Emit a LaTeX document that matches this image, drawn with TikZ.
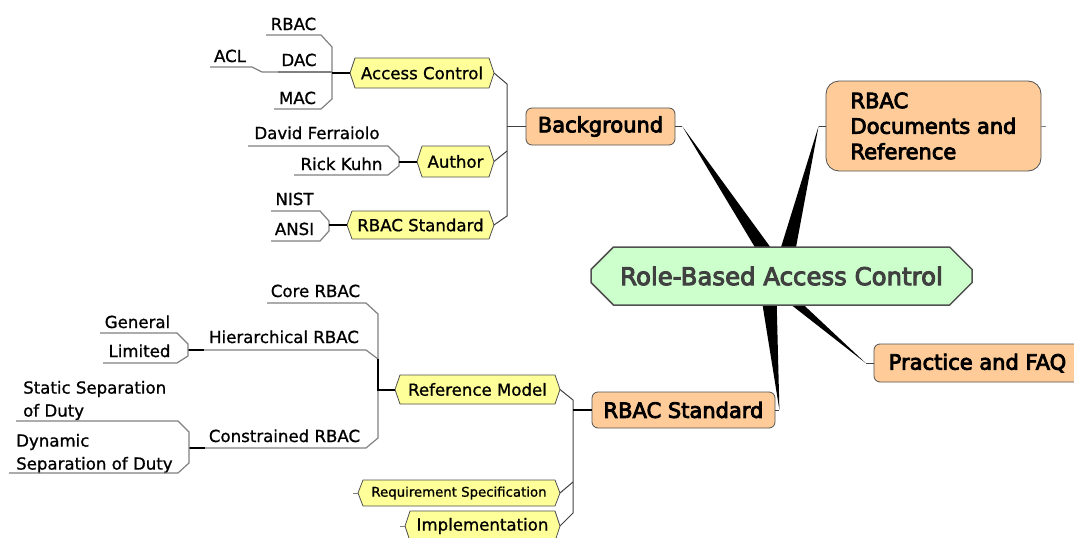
\documentclass[tikz,border=0pt]{standalone}
\usepackage{fontspec}
\setmainfont[FakeBold=1]{DejaVu Sans}
\newfontfamily\bfam[FakeBold=4]{DejaVu Sans}
\usetikzlibrary{shapes.misc,calc}
\definecolor{yel}{HTML}{FFFF99}
\definecolor{orng}{HTML}{FFCC99}
\definecolor{grn}{HTML}{CCFFCC}
\definecolor{bord}{HTML}{505050}
\definecolor{uline}{HTML}{808080}
\definecolor{ctext}{HTML}{404040}
\pgfdeclarelayer{bg}
\pgfsetlayers{bg,main}
\newcommand\mmwedge[3]{\fill[black] (#2) -- ($(#1)!#3!90:(#2)$) -- ($(#1)!#3!-90:(#2)$) -- cycle;}
\newcommand\hexa[1]{\filldraw[fill=yel, draw=bord, line width=0.8pt, line join=round] (#1.west) -- ([xshift=5pt]#1.north west) -- ([xshift=-5pt]#1.north east) -- (#1.east) -- ([xshift=-5pt]#1.south east) -- ([xshift=5pt]#1.south west) -- cycle;}
\begin{document}
\begin{tikzpicture}[x=1pt,y=-1pt,
  leaf/.style={anchor=base, inner sep=0pt, font=\fontsize{16.6}{23}\selectfont},
  mleaf/.style={anchor=west, inner sep=0pt, align=left, font=\fontsize{16.6}{23}\selectfont},
  yelnode/.style={rectangle, minimum height=30pt, inner sep=0pt, outer sep=0pt, font=\fontsize{16.6}{20}\selectfont},
  orngnode/.style={rectangle, rounded corners=6pt, fill=orng, draw=bord, line width=0.8pt, inner sep=0pt,
    font=\bfam\fontsize{21}{25.5}\selectfont},
  centnode/.style={chamfered rectangle, chamfered rectangle xsep=13pt, chamfered rectangle ysep=13pt,
    fill=grn, draw=bord, line width=1.5pt, minimum width=381pt, minimum height=58pt, inner sep=0pt,
    text=ctext, font=\bfam\fontsize{24.4}{28}\selectfont},
  uln/.style={draw=uline, line width=1.2pt},
  link/.style={draw=black, line width=2pt},
  dk/.style={draw=black!75, line width=1pt}
]
\useasboundingbox (0,0) rectangle (1074,538);

% central and main branches
\node[centnode] (c) at (781.5,276) {Role-Based Access Control};
\node[orngnode, minimum width=149pt, minimum height=37pt] (bg) at (600.5,126.5) {Background};
\node[orngnode, rounded corners=13pt, minimum width=215pt, minimum height=90pt, align=left] (doc) at (933.5,126) {RBAC\\Documents and\\Reference};
\node[orngnode, minimum width=207pt, minimum height=38pt] (faq) at (977.5,363) {Practice and FAQ};
\node[orngnode, minimum width=183pt, minimum height=36pt] (std) at (683.5,410) {RBAC Standard};

% yellow sub-topics
\node[yelnode, minimum width=144pt] (ac) at (422,73) {Access Control};
\node[yelnode, minimum width=77pt, minimum height=31pt] (au) at (455.5,161.5) {Author};
\node[yelnode, minimum width=147pt, minimum height=28pt] (rs) at (420.5,225) {RBAC Standard};
\node[yelnode, minimum width=165pt, minimum height=29pt] (rm) at (477.5,389.5) {Reference Model};
\node[yelnode, minimum width=202pt, minimum height=26pt, font=\fontsize{13.3}{16}\selectfont] (req) at (459,493) {Requirement Specification};
\node[yelnode, minimum width=155pt] (imp) at (482.5,526) {Implementation};

% leaves
\node[leaf] (lrbac) at (293.5,30) {RBAC};
\node[leaf] (ldac) at (299,66) {DAC};
\node[leaf] (lmac) at (297.5,104) {MAC};
\node[leaf] (lacl) at (230,62) {ACL};
\node[leaf] (ldf) at (317,139) {David Ferraiolo};
\node[leaf] (lrk) at (341.5,170) {Rick Kuhn};
\node[leaf] (lnist) at (294.5,205) {NIST};
\node[leaf] (lansi) at (294.5,235) {ANSI};
\node[leaf] (lcore) at (315.5,297) {Core RBAC};
\node[leaf] (lhier) at (284,343) {Hierarchical RBAC};
\node[leaf] (lcons) at (284.5,442) {Constrained RBAC};
\node[leaf] (lgen) at (137.5,328) {General};
\node[leaf] (llim) at (139.5,357) {Limited};
\node[mleaf] (lssd) at (23,400.5) {Static Separation\\of Duty};
\node[mleaf] (ldsd) at (16,453.5) {Dynamic\\Separation of Duty};

% top-left brackets
\draw[uln] (266,35) -- (321,35) -- (332,47) -- (332,99) -- (321,109) -- (274,109);
\draw[uln] (278,72) -- (332,72);
\draw[uln] (210,67) -- (252,67) -- (262,72) -- (278,72);
\draw[link] (332,73) -- (ac.west);
\draw[uln] (248,146) -- (388,146) -- (399,157) -- (399,166) -- (388,175) -- (294,175);
\draw[link] (399,161.5) -- (au.west);
\draw[uln] (271,211) -- (320,211) -- (329,221) -- (329,231) -- (320,241) -- (271,241);
\draw[link] (329,225) -- (rs.west);
\coordinate (jbg) at (507,126.5);
\draw[dk] (ac.east) -- (507,84) -- (507,216) -- (rs.east);
\draw[dk] (au.east) -- (507,151);
\draw[dk] (jbg) -- (bg.west);

% bottom-left brackets
\draw[uln] (267,303) -- (366,303) -- (378,314) -- (378,438) -- (366,448) -- (205,448);
\draw[uln] (204,350) -- (366,350) -- (378,359);
\draw[link] (378,359) -- (378,389.5) -- (rm.west);
\draw[link] (188,350) -- (204,350);
\draw[link] (189,448) -- (205,448);
\draw[uln] (100,333) -- (177,333) -- (188,344) -- (188,356) -- (177,363) -- (103,363);
\draw[uln] (16,421) -- (178,421) -- (189,432) -- (189,463) -- (178,473) -- (9,473);

% bottom-middle bracket
\coordinate (jstd) at (573,410);
\draw[dk] (rm.east) -- (573,400) -- (573,513) -- (imp.east);
\draw[dk] (req.east) -- (573,482);
\draw[link] (jstd) -- (std.west);
\draw[uln, line width=0.8pt] (req.west) -- ++(-5,0);
\draw[uln, line width=0.8pt] (imp.west) -- ++(-5,0);
\draw[uln, line width=0.8pt] (doc.east) -- ++(5,0);

% stubs and wedges
\draw[dk] (bg.east) -- ++(7,0) coordinate (tbg);
\draw[dk] (doc.west) -- ++(-7,0) coordinate (tdoc);
\draw[dk] (faq.west) -- ++(-8,0) coordinate (tfaq);
\draw[dk] (std.east) -- ++(4,0) coordinate (tstd);
\coordinate (cb1) at (767,276);
\coordinate (cb2) at (764,276);
\begin{pgfonlayer}{bg}
\mmwedge{c.center}{tbg}{8pt}
\mmwedge{c.center}{tdoc}{9pt}
\mmwedge{cb1}{tstd}{9pt}
\mmwedge{cb2}{tfaq}{6pt}
\hexa{ac}
\hexa{au}
\hexa{rs}
\hexa{rm}
\hexa{req}
\hexa{imp}
\end{pgfonlayer}
\end{tikzpicture}
\end{document}
